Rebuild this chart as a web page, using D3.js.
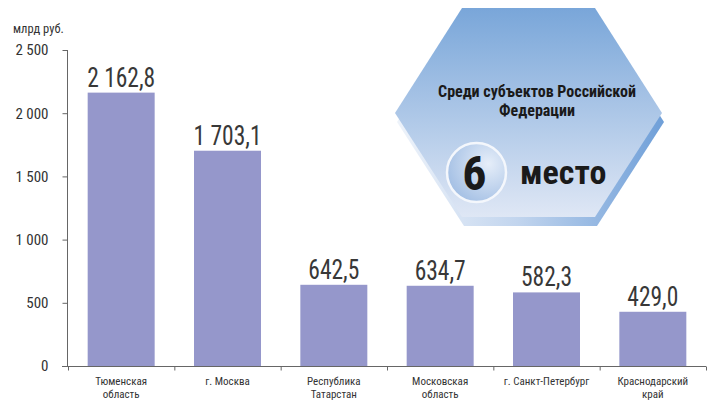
<!DOCTYPE html>
<html><head><meta charset="utf-8">
<script src="https://cdn.jsdelivr.net/npm/d3@7"></script>
<style>
html,body{margin:0;padding:0;background:#fff;}
text{font-family:"Liberation Sans Narrow","Arial Narrow","Roboto Condensed","Liberation Sans",sans-serif;}
</style></head>
<body>
<svg id="chart" width="712" height="402"></svg>
<script>
const categories = [["Тюменская","область"],["г. Москва"],["Республика","Татарстан"],["Московская","область"],["г. Санкт-Петербург"],["Краснодарский","край"]];
const values = [2162.8, 1703.1, 642.5, 634.7, 582.3, 429.0];
const valueLabels = ["2 162,8","1 703,1","642,5","634,7","582,3","429,0"];
const yTicks = [0, 500, 1000, 1500, 2000, 2500];
const yTickLabels = ["0","500","1 000","1 500","2 000","2 500"];
const unitLabel = "млрд руб.";
const badgeTitle = ["Среди субъектов Российской","Федерации"];
const badgeRank = "6";
const badgeWord = "место";

const svg = d3.select("#chart");
const x = d3.scaleBand().domain(d3.range(categories.length)).range([68,706]).paddingInner(0.37).paddingOuter(0.185);
const y = d3.scaleLinear().domain([0,2500]).range([366,50]);

function squeeze(sel, k){
  sel.each(function(){
    const w = this.getComputedTextLength();
    d3.select(this).attr("textLength", w*k).attr("lengthAdjust","spacingAndGlyphs");
  });
}

// y axis
const yAxis = d3.axisLeft(y).tickValues(yTicks).tickSize(5).tickFormat((d,i)=>yTickLabels[i]);
const gy = svg.append("g").attr("transform","translate(67.5,0)").call(yAxis);
gy.select(".domain").attr("stroke","#666").attr("d","M0,50V366");
gy.selectAll(".tick line").attr("stroke","#666");
gy.selectAll(".tick text").attr("x",-19).attr("font-size",15).attr("fill","#333");

// x axis
const xb = d3.scaleLinear().domain([0,categories.length]).range([68,706]);
const gx = svg.append("g").attr("transform","translate(0,366.5)")
  .call(d3.axisBottom(xb).ticks(6).tickSize(4).tickFormat(""));
gx.select(".domain").attr("stroke","#666").attr("d","M62,0H706");
gx.selectAll(".tick line").attr("stroke","#666");

// bars
svg.append("g").selectAll("rect").data(values).join("rect")
  .attr("x",(d,i)=>x(i)).attr("width",x.bandwidth())
  .attr("y",d=>y(d)).attr("height",d=>y(0)-y(d))
  .attr("fill","#9597cb");

// value labels
const vl = svg.append("g").selectAll("text").data(values).join("text")
  .attr("x",(d,i)=>x(i)+x.bandwidth()/2).attr("y",d=>y(d)-6)
  .attr("text-anchor","middle").attr("font-size",27).attr("fill","#383838")
  .text((d,i)=>valueLabels[i]);
squeeze(vl, 0.87);

// category labels (one text element per line)
const catLines = [];
categories.forEach((c,i)=>c.forEach((t,j)=>catLines.push({i, j, t})));
svg.append("g").selectAll("text").data(catLines).join("text")
  .attr("x",d=>x(d.i)+x.bandwidth()/2).attr("y",d=>385+d.j*13)
  .attr("text-anchor","middle").attr("font-size",11).attr("fill","#333")
  .text(d=>d.t);

// unit
svg.append("text").attr("x",13).attr("y",33).attr("font-size",12.5).attr("fill","#333").text(unitLabel);

// badge
const defs = svg.append("defs");
const g1 = defs.append("linearGradient").attr("id","hexg").attr("x1",0).attr("y1",0).attr("x2",0).attr("y2",1);
g1.append("stop").attr("offset","0%").attr("stop-color","#79a6d9");
g1.append("stop").attr("offset","100%").attr("stop-color","#dfe7f5");
const g2 = defs.append("linearGradient").attr("id","shg").attr("x1",0).attr("y1",0).attr("x2",1).attr("y2",0);
g2.append("stop").attr("offset","0%").attr("stop-color","#eef3fa");
g2.append("stop").attr("offset","45%").attr("stop-color","#c2d5ee");
g2.append("stop").attr("offset","100%").attr("stop-color","#6f9fd8");
const g3 = defs.append("radialGradient").attr("id","cg").attr("cx","70%").attr("cy","35%").attr("r","75%");
g3.append("stop").attr("offset","0%").attr("stop-color","#e6eef9");
g3.append("stop").attr("offset","100%").attr("stop-color","#a3bfe4");

const hex = [[462,8],[595,8],[662,113],[595,217],[462,217],[395,113]];
const line = d3.line();
svg.append("path").attr("d",line(hex.map(p=>[p[0]+2,p[1]+9]))+"Z").attr("fill","url(#shg)");
svg.append("path").attr("d",line(hex)+"Z").attr("fill","url(#hexg)");

const tt = svg.append("text").attr("x",537).attr("y",97).attr("text-anchor","middle")
  .attr("font-size",16).attr("font-weight","bold").attr("fill","#1a1a1a");
tt.selectAll("tspan").data(badgeTitle).join("tspan").attr("x",537).attr("dy",(d,i)=>i?19:0).text(d=>d);

svg.append("circle").attr("cx",476.5).attr("cy",172.5).attr("r",29.5)
  .attr("fill","url(#cg)").attr("stroke","#f4f7fc").attr("stroke-width",2.5);
svg.append("text").attr("x",474.5).attr("y",190).attr("text-anchor","middle")
  .attr("font-size",48).attr("font-weight","bold").attr("fill","#1a1a1a").text(badgeRank);
svg.append("text").attr("x",520).attr("y",184)
  .attr("font-size",34).attr("font-weight","bold").attr("fill","#1a1a1a").text(badgeWord);
</script>
</body></html>
